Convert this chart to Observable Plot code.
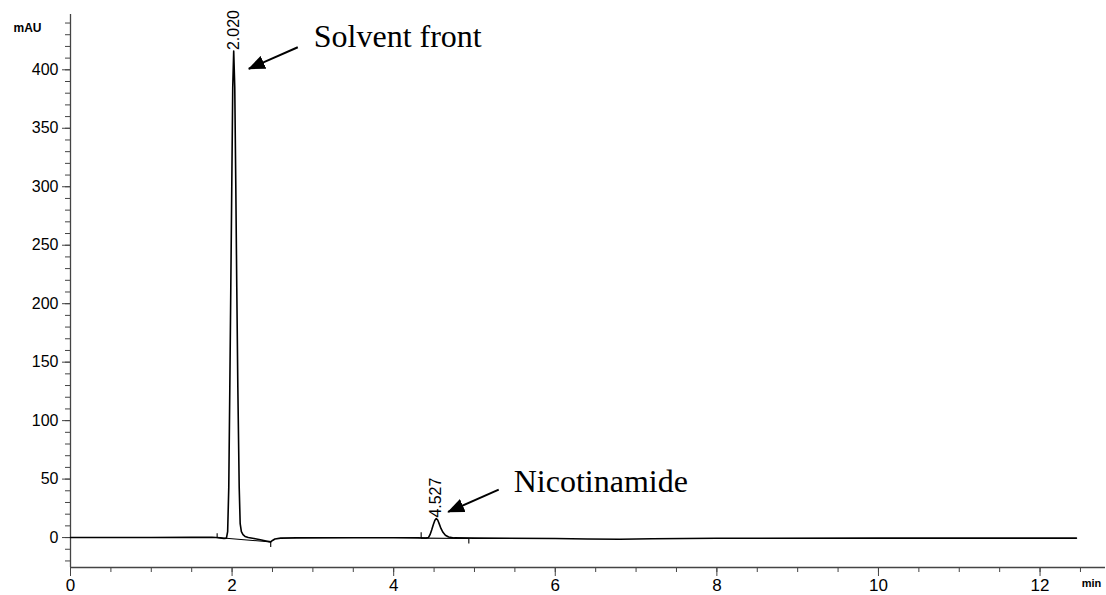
<!DOCTYPE html>
<html>
<head>
<meta charset="utf-8">
<script src="https://cdn.jsdelivr.net/npm/d3@7"></script>
<script src="https://cdn.jsdelivr.net/npm/@observablehq/plot@0.6"></script>
<style>
  html, body { margin: 0; padding: 0; background: #fff; overflow: hidden; }
  svg { display: block; }
</style>
</head>
<body>
<div id="chart"></div>
<script>
// ---- Chromatogram trace (retention time in min, absorbance in mAU) ----
const timeMin = [0, 0.5, 1.0, 1.5, 1.75, 1.80, 1.85, 1.90, 1.93, 1.945, 1.959, 1.972, 1.984, 1.996, 2.008, 2.020,
  2.033, 2.046, 2.058, 2.071, 2.088, 2.100, 2.115, 2.135, 2.160, 2.200, 2.270, 2.350, 2.420, 2.478, 2.500, 2.530,
  2.600, 2.800, 3.500, 4.000, 4.300, 4.400, 4.430, 4.450, 4.470, 4.490, 4.510, 4.527, 4.545, 4.565, 4.585, 4.610,
  4.640, 4.680, 4.750, 5.000, 6.000, 6.400, 6.800, 7.200, 8.000, 10.000, 12.450];
const signalMAU = [0, 0, 0, 0.2, 0.3, 0.1, -0.3, -0.8, -0.5, 5, 43, 129, 214, 300, 385, 416,
  385, 300, 214, 129, 43, 12, 5, 2.5, 1.0, 0, -0.8, -1.9, -2.9, -3.7, -2.5, -1.2,
  -0.5, -0.3, -0.2, -0.2, -0.3, -0.5, 0, 2.5, 6.5, 11, 14.8, 16.2, 15, 11.5, 7.8, 4.5,
  2, 0.5, -0.3, -0.5, -0.8, -1.2, -1.5, -1.0, -0.6, -0.5, -0.5];

// ---- Integrated peaks ----
const peakTimes = [2.020, 4.527];
const peakHeights = [416, 16.2];
const peakLabels = ["2.020", "4.527"];

// integration baselines (start / end of each peak)
const baseStartT = [1.815, 4.34];
const baseStartV = [0, -0.5];
const baseEndT = [2.478, 4.93];
const baseEndV = [-3.7, -0.8];

// peak start / end marker ticks
const markT = [1.815, 2.478, 4.34, 4.93];
const markFrom = [0, -3.7, -0.5, -0.8];
const markTo = [3.7, -8, 4.6, -5];

// ---- Annotations ----
const noteTexts = ["Solvent front", "Nicotinamide"];
const noteT = [3.011, 5.486];
const noteV = [419.3, 39.0];
const arrowFromT = [2.813, 5.300];
const arrowFromV = [419.3, 41.0];
const arrowToT = [2.207, 4.674];
const arrowToV = [400.9, 21.9];

// ---- Axes ----
const xDomain = [0, 12.81];
const yDomain = [-25.6, 447.3];
const xMajorTicks = [0, 2, 4, 6, 8, 10, 12];
const xMinorTicks = d3.range(0.5, 12.8, 0.5);
const yMajorTicks = [0, 50, 100, 150, 200, 250, 300, 350, 400];
const yMinorTicks = d3.range(-20, 441, 10);
const yUnit = "mAU";
const xUnit = "min";

const trace = timeMin.map((t, i) => ({t, v: signalMAU[i]}));
const peaks = peakTimes.map((t, i) => ({t, v: peakHeights[i], label: peakLabels[i]}));
const bases = baseStartT.map((t, i) => ({t1: t, v1: baseStartV[i], t2: baseEndT[i], v2: baseEndV[i]}));
const marks = markT.map((t, i) => ({t, v1: markFrom[i], v2: markTo[i]}));
const notes = noteTexts.map((s, i) => ({s, t: noteT[i], v: noteV[i]}));
const arrows = arrowFromT.map((t, i) => ({t1: t, v1: arrowFromV[i], t2: arrowToT[i], v2: arrowToV[i]}));

const axisColor = "#444";

const svg = Plot.plot({
  width: 1106,
  height: 595,
  marginLeft: 70,
  marginRight: 1,
  marginTop: 14,
  marginBottom: 28,
  style: {fontFamily: "'Liberation Sans', Arial, sans-serif", fontSize: "14px", background: "#fff", color: "#000"},
  x: {domain: xDomain},
  y: {domain: yDomain},
  marks: [
    // minor ticks
    Plot.axisY(yMinorTicks, {tickSize: 5, tickFormat: () => "", stroke: axisColor}),
    Plot.axisX(xMinorTicks, {tickSize: 5, tickFormat: () => "", stroke: axisColor}),
    // major ticks + labels
    Plot.axisY(yMajorTicks, {tickSize: 8, tickPadding: 4, fontSize: 16, stroke: axisColor, fill: "#000", tickFormat: d => d}),
    Plot.axisX(xMajorTicks, {tickSize: 9, tickPadding: 2, fontSize: 17, stroke: axisColor, fill: "#000",
      fontFamily: "'Liberation Sans Narrow', 'Arial Narrow', 'Liberation Sans', Arial, sans-serif", tickFormat: d => d}),
    // axis lines
    Plot.ruleX([xDomain[0]], {stroke: axisColor, strokeWidth: 1.3}),
    Plot.ruleY([yDomain[0]], {stroke: axisColor, strokeWidth: 1.3}),
    // units
    Plot.text([yUnit], {frameAnchor: "top-left", text: d => d, dx: -43, dy: 9, fontSize: 12, fontWeight: 600, textAnchor: "middle"}),
    Plot.text([xUnit], {frameAnchor: "bottom-right", text: d => d, dx: -14, dy: 19, fontSize: 11, fontWeight: 600, textAnchor: "middle"}),
    // integration baselines and peak markers
    Plot.link(bases, {x1: "t1", y1: "v1", x2: "t2", y2: "v2", stroke: "#000", strokeWidth: 1.1}),
    Plot.link(marks, {x1: "t", x2: "t", y1: "v1", y2: "v2", stroke: "#000", strokeWidth: 1.1}),
    // trace
    Plot.line(trace, {x: "t", y: "v", stroke: "#000", strokeWidth: 1.6}),
    // peak retention time labels
    Plot.text(peaks, {x: "t", y: "v", text: "label", rotate: -90, textAnchor: "start", lineAnchor: "middle", dy: -1, fontSize: 16, fontWeight: 500, fill: "#000"}),
    // annotations
    Plot.link(arrows, {x1: "t1", y1: "v1", x2: "t2", y2: "v2", stroke: "#000", strokeWidth: 2, ariaLabel: "annotation-arrow"}),
    Plot.text(notes, {x: "t", y: "v", text: "s", textAnchor: "start", lineAnchor: "bottom", fontSize: 32,
      fontFamily: "'Liberation Serif', 'Times New Roman', serif", fill: "#000"})
  ]
});

// filled arrowheads for the annotation arrows
const root = d3.select(svg);
const defs = root.insert("defs", ":first-child");
defs.append("marker")
  .attr("id", "ahead")
  .attr("viewBox", "0 0 17 14")
  .attr("markerWidth", 17)
  .attr("markerHeight", 14)
  .attr("markerUnits", "userSpaceOnUse")
  .attr("refX", 16)
  .attr("refY", 7)
  .attr("orient", "auto")
  .append("path")
  .attr("d", "M0,0L17,7L0,14Z")
  .attr("fill", "#000");
let arrowGroup = root.select('g[aria-label="annotation-arrow"]');
if (arrowGroup.empty()) {
  const links = root.selectAll('g[aria-label="link"]').nodes();
  arrowGroup = d3.select(links[links.length - 1]);
}
arrowGroup.selectAll("path").attr("marker-end", "url(#ahead)");

document.getElementById("chart").appendChild(svg);
</script>
</body>
</html>
